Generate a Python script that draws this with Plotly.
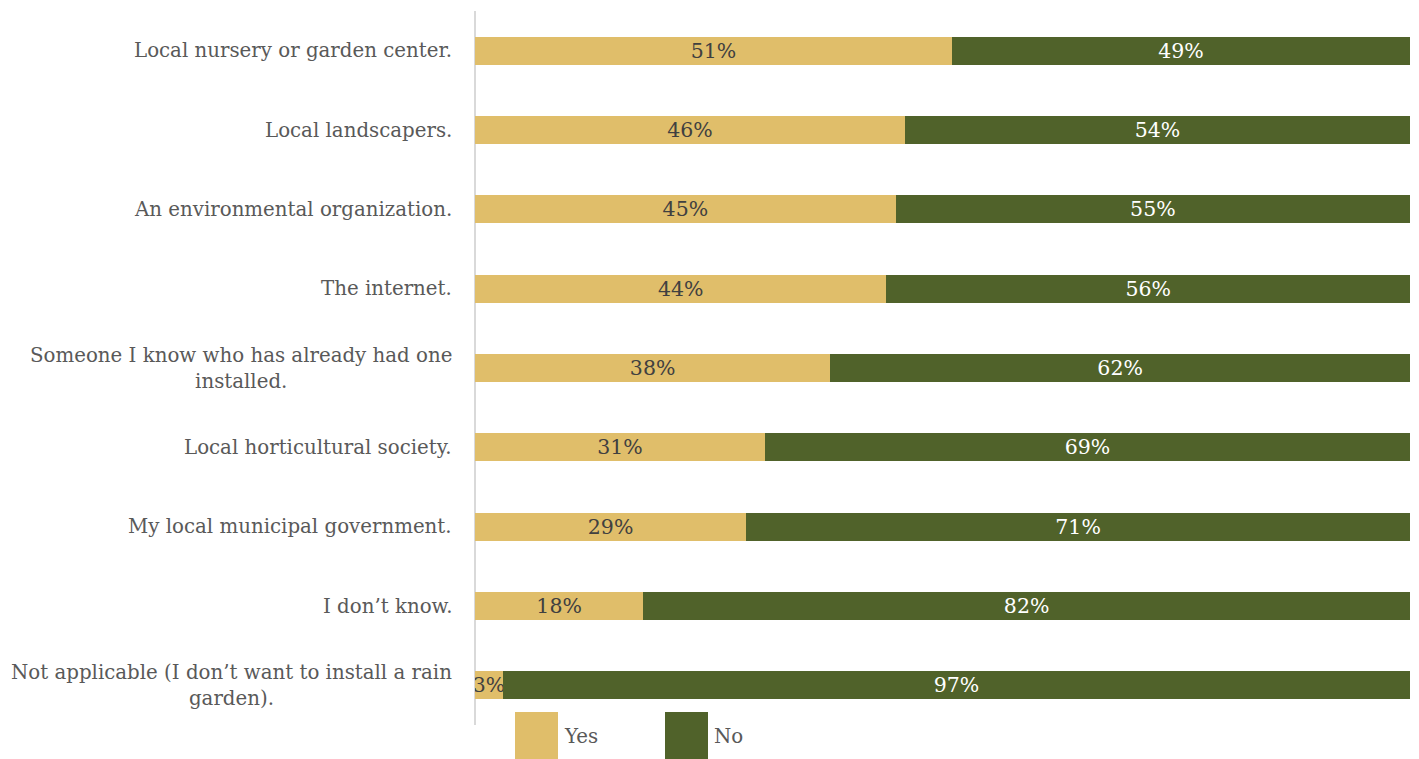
import plotly.graph_objects as go

# Survey: where respondents would look for help installing a rain garden
categories = [
    "Local nursery or garden center.",
    "Local landscapers.",
    "An environmental organization.",
    "The internet.",
    "Someone I know who has already had one<br>installed.",
    "Local horticultural society.",
    "My local municipal government.",
    "I don\u2019t know.",
    "Not applicable (I don\u2019t want to install a rain<br>garden).",
]
yes_pct = [51, 46, 45, 44, 38, 31, 29, 18, 3]
no_pct = [49, 54, 55, 56, 62, 69, 71, 82, 97]

YES_COLOR = "#E0BE6A"
NO_COLOR = "#50622A"
FONT = "Georgia, 'DejaVu Serif', serif"
FS = 20.5
LABEL_FS = 19.8

ids = list(range(len(categories)))

fig = go.Figure()
fig.add_trace(go.Bar(
    y=ids, x=yes_pct, orientation="h", name="Yes",
    marker=dict(color=YES_COLOR, line=dict(width=0)),
    text=[f"{v}%" for v in yes_pct], textposition="inside",
    insidetextanchor="middle", textangle=0,
    textfont=dict(family=FONT, size=FS, color="#404040"),
    hoverinfo="skip",
))
fig.add_trace(go.Bar(
    y=ids, x=no_pct, orientation="h", name="No",
    marker=dict(color=NO_COLOR, line=dict(width=0)),
    text=[f"{v}%" for v in no_pct], textposition="inside",
    insidetextanchor="middle", textangle=0,
    textfont=dict(family=FONT, size=FS, color="#FFFFFF"),
    hoverinfo="skip",
))

# Category labels, right-aligned against the axis, lines centred
annotations = []
for i, c in zip(ids, categories):
    annotations.append(dict(
        x=0, xref="paper", y=i, yref="y", text=c, showarrow=False,
        xanchor="right", yanchor="middle", align="center", xshift=-21,
        font=dict(family=FONT, size=LABEL_FS, color="#595959"),
    ))

# Legend drawn as large swatches below the plot
legend_items = [("Yes", YES_COLOR, 515), ("No", NO_COLOR, 665)]
shapes = []
for name, color, px in legend_items:
    x0 = (px - 475) / 935
    x1 = (px + 43 - 475) / 935
    shapes.append(dict(type="rect", xref="paper", yref="paper",
                       x0=x0, x1=x1, y0=(725 - 712) / 714, y1=(725 - 762) / 714,
                       fillcolor=color, line=dict(width=0), layer="above"))
    annotations.append(dict(
        x=x1, xref="paper", y=(725 - 736) / 714, yref="paper", text=name,
        showarrow=False, xanchor="left", yanchor="middle", xshift=4,
        font=dict(family=FONT, size=LABEL_FS, color="#595959"),
    ))

fig.update_layout(
    barmode="stack",
    bargap=0.645,
    width=1419, height=759,
    margin=dict(l=475, r=9, t=11, b=34),
    paper_bgcolor="white", plot_bgcolor="white",
    showlegend=False,
    uniformtext=dict(mode="show", minsize=FS),
    annotations=annotations,
    shapes=shapes,
    xaxis=dict(range=[0, 100], visible=False, fixedrange=True),
    yaxis=dict(
        range=[len(categories) - 0.5, -0.5], showticklabels=False,
        showgrid=False, zeroline=False, showline=False, ticks="",
    ),
)
fig.add_shape(type="line", xref="paper", yref="paper", x0=0, x1=0,
              y0=0, y1=1, line=dict(color="#D9D9D9", width=2), layer="below")

fig.write_html("out.html")
